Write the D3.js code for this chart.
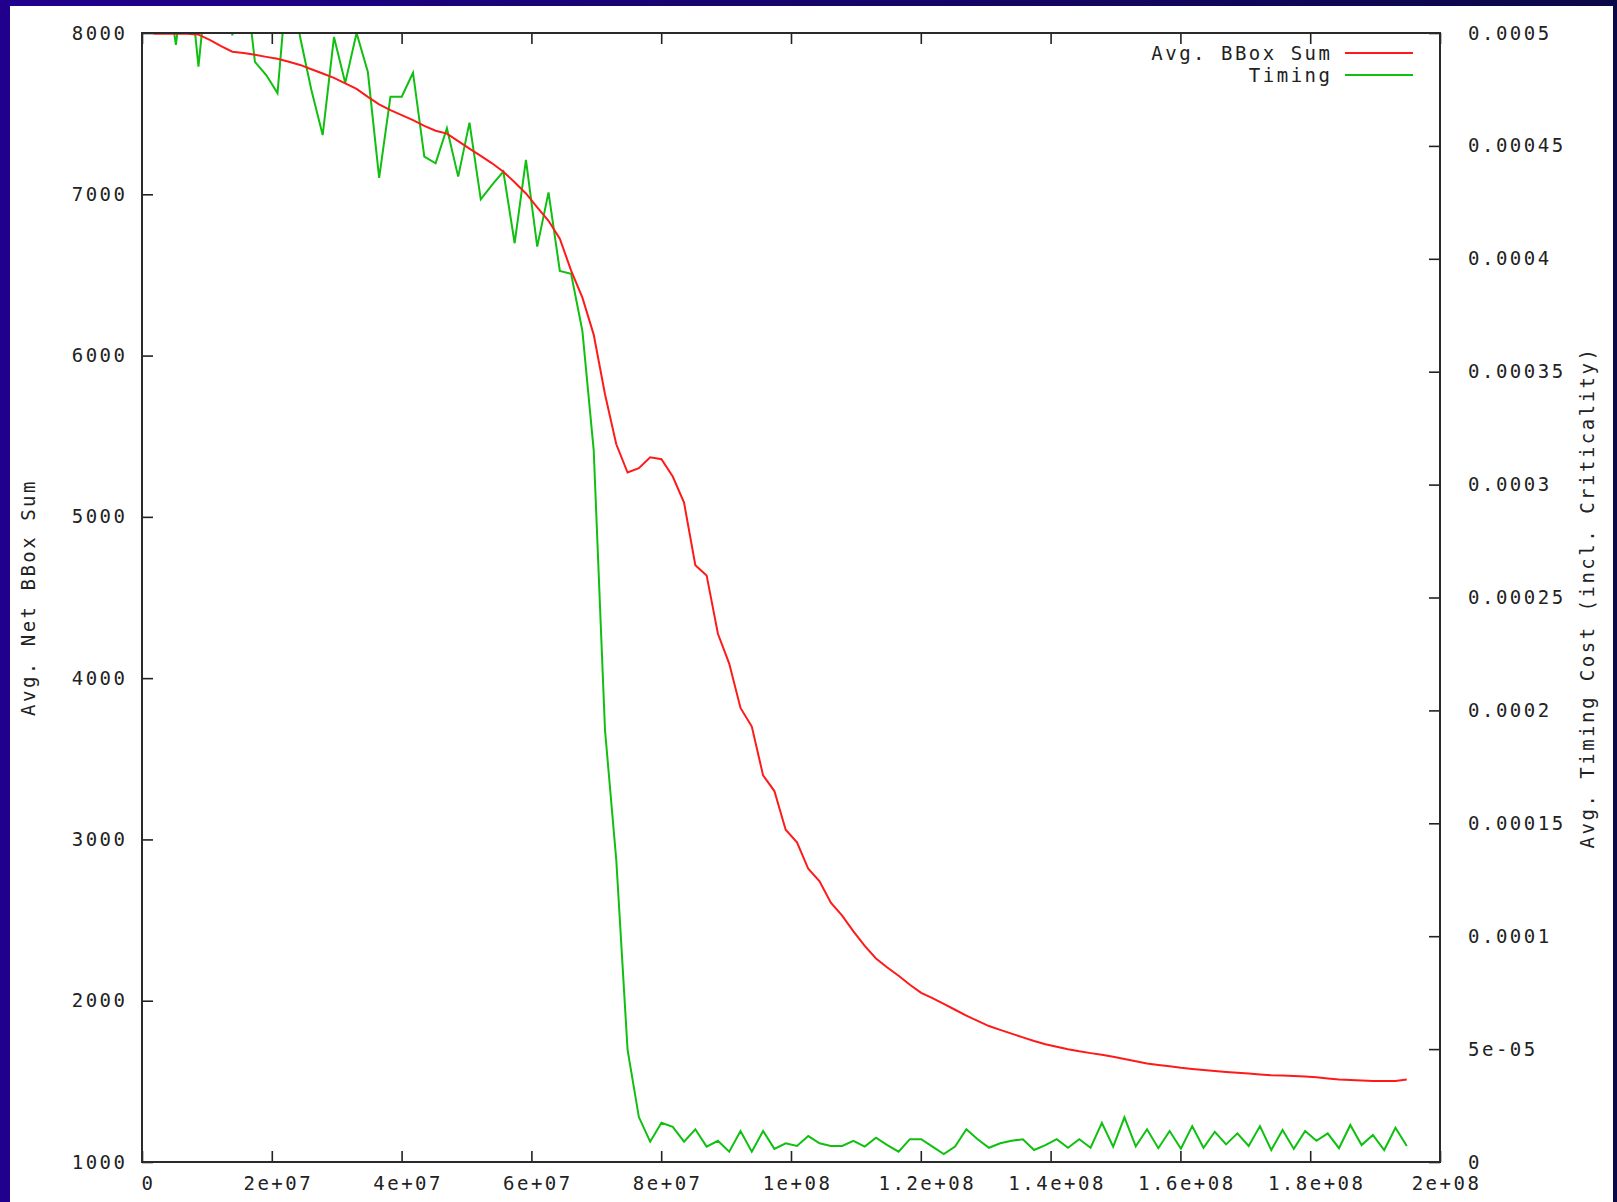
<!DOCTYPE html>
<html>
<head>
<meta charset="utf-8">
<script src="https://cdn.jsdelivr.net/npm/d3@7"></script>
<style>
    body { margin: 0; background: #ffffff; }
    svg { display: block; }
    text { font-family: "DejaVu Sans Mono", monospace; font-size: 19px; letter-spacing: 2.5px; fill: #222222; }
</style>
</head>
<body>
<svg id="drawing_region"></svg>
<script>
// samples are taken every ~1.74e6 moves
const MOVE_STEP = 1.74e6;

// Avg. BBox Sum (left axis)
const bboxSum = [
    7995, 7995, 7995, 7995, 7990, 7957, 7919, 7884, 7876, 7865,
    7852, 7840, 7822, 7802, 7775, 7749, 7722, 7688, 7653, 7604,
    7558, 7522, 7491, 7460, 7424, 7394, 7376, 7330, 7283, 7238,
    7192, 7140, 7075, 7005, 6919, 6836, 6725, 6527, 6359, 6130,
    5760, 5450, 5275, 5302, 5369, 5357, 5250, 5088, 4700, 4637,
    4275, 4090, 3815, 3700, 3397, 3300, 3060, 2982, 2818, 2740,
    2608, 2528, 2430, 2340, 2262, 2206, 2155, 2099, 2049, 2016,
    1981, 1944, 1907, 1875, 1843, 1819, 1796, 1773, 1750, 1730,
    1715, 1699, 1686, 1675, 1665, 1653, 1639, 1625, 1611, 1602,
    1593, 1584, 1577, 1570, 1564, 1558, 1553, 1548, 1543, 1538,
    1536, 1533, 1530, 1525, 1518, 1512, 1508, 1505, 1502, 1502,
    1502, 1512
];

// Timing cost (right axis), in units of 1e-5
const timingE5 = [
    50.0, 53.0, 49.47, 53.5, 48.51, 53.5, 54.0, 49.9, 53.1, 48.72,
    48.14, 47.34, 53.2, 49.82, 47.48, 45.48, 49.82, 47.79, 50.0, 48.27,
    43.58, 47.18, 47.18, 48.24, 44.52, 44.23, 45.78, 43.64, 46.03, 42.63,
    43.27, 43.86, 40.69, 44.38, 40.54, 42.94, 39.46, 39.34, 36.80, 31.53,
    19.13, 13.37, 4.96, 1.99, 0.90, 1.74, 1.56, 0.90, 1.45, 0.68,
    0.94, 0.46, 1.37, 0.46, 1.37, 0.58, 0.83, 0.71, 1.15, 0.83,
    0.71, 0.71, 0.94, 0.68, 1.08, 0.75, 0.46, 1.01, 1.01, 0.68,
    0.35, 0.68, 1.45, 1.01, 0.63, 0.83, 0.94, 1.01, 0.53, 0.75,
    1.01, 0.63, 1.01, 0.63, 1.73, 0.68, 1.98, 0.69, 1.45, 0.61,
    1.37, 0.59, 1.59, 0.63, 1.34, 0.78, 1.27, 0.71, 1.59, 0.53,
    1.42, 0.58, 1.37, 0.94, 1.27, 0.61, 1.64, 0.75, 1.20, 0.53,
    1.52, 0.71
];

const xTicks = [0, 2e7, 4e7, 6e7, 8e7, 1e8, 1.2e8, 1.4e8, 1.6e8, 1.8e8, 2e8];
const xTickLabels = ["0", "2e+07", "4e+07", "6e+07", "8e+07", "1e+08", "1.2e+08", "1.4e+08", "1.6e+08", "1.8e+08", "2e+08"];
const yTicks = [1000, 2000, 3000, 4000, 5000, 6000, 7000, 8000];
const y2Ticks = [0, 5e-5, 1e-4, 1.5e-4, 2e-4, 2.5e-4, 3e-4, 3.5e-4, 4e-4, 4.5e-4, 5e-4];
const y2TickLabels = ["0", "5e-05", "0.0001", "0.00015", "0.0002", "0.00025", "0.0003", "0.00035", "0.0004", "0.00045", "0.0005"];

const seriesNames = ["Avg. BBox Sum", "Timing"];
const seriesColors = ["#ff1a1a", "#10c010"];

const config = {
    width: 1617,
    height: 1202,
    margin: {top: 33, right: 177, bottom: 40, left: 142}
};

const svg = d3.select('#drawing_region')
    .attr('width', config.width)
    .attr('height', config.height);

// dark blue slide frame
const grad = svg.append('defs').append('linearGradient')
    .attr('id', 'frame').attr('x1', 0).attr('x2', 1).attr('y1', 0).attr('y2', 0);
grad.append('stop').attr('offset', '0%').attr('stop-color', '#21008e');
grad.append('stop').attr('offset', '100%').attr('stop-color', '#0b0848');
svg.append('rect').attr('width', config.width).attr('height', config.height).attr('fill', 'url(#frame)');
svg.append('rect').attr('x', 10).attr('y', 6).attr('width', 1603).attr('height', 1196).attr('fill', '#ffffff');

const plotLeft = config.margin.left;
const plotRight = config.width - config.margin.right;
const plotTop = config.margin.top;
const plotBottom = config.height - config.margin.bottom;

const xscale = d3.scaleLinear().domain([0, 2e8]).range([plotLeft, plotRight]);
const yscale = d3.scaleLinear().domain([1000, 8000]).range([plotBottom, plotTop]);
const y2scale = d3.scaleLinear().domain([0, 5e-4]).range([plotBottom, plotTop]);

svg.append('clipPath').attr('id', 'plot_clip')
    .append('rect')
    .attr('x', plotLeft).attr('y', plotTop)
    .attr('width', plotRight - plotLeft).attr('height', plotBottom - plotTop);

const moves = bboxSum.map((d, i) => (i + 1) * MOVE_STEP);
const redData = bboxSum.map((d, i) => ({x: moves[i], y: d}));
const greenData = timingE5.map((d, i) => ({x: moves[i], y: d * 1e-5}));

const plot = svg.append('g').attr('clip-path', 'url(#plot_clip)');

plot.append('path')
    .attr('d', d3.line().x(d => xscale(d.x)).y(d => y2scale(d.y))(greenData))
    .attr('fill', 'none')
    .attr('stroke', seriesColors[1])
    .attr('stroke-width', 2);

plot.append('path')
    .attr('d', d3.line().x(d => xscale(d.x)).y(d => yscale(d.y))(redData))
    .attr('fill', 'none')
    .attr('stroke', seriesColors[0])
    .attr('stroke-width', 2);

// axes, ticks pointing inward like gnuplot
const xaxis_group = svg.append('g')
    .attr('transform', `translate(0, ${plotBottom})`)
    .call(d3.axisBottom(xscale).tickValues(xTicks)
        .tickFormat((d, i) => xTickLabels[i]).tickSize(-11).tickSizeOuter(0).tickPadding(15));
xaxis_group.selectAll('text').attr('dx', 6);

svg.append('g')
    .attr('transform', `translate(0, ${plotTop})`)
    .call(d3.axisTop(xscale).tickValues(xTicks).tickFormat('').tickSize(-11).tickSizeOuter(0));

svg.append('g')
    .attr('transform', `translate(${plotLeft}, 0)`)
    .call(d3.axisLeft(yscale).tickValues(yTicks).tickFormat(d3.format('d'))
        .tickSize(-11).tickSizeOuter(0).tickPadding(14.5));

svg.append('g')
    .attr('transform', `translate(${plotRight}, 0)`)
    .call(d3.axisRight(y2scale).tickValues(y2Ticks)
        .tickFormat((d, i) => y2TickLabels[i]).tickSize(-11).tickSizeOuter(0).tickPadding(28));

svg.selectAll('.domain').remove();
svg.selectAll('.tick line').attr('stroke', '#222222').attr('stroke-width', 1.6);

svg.append('rect')
    .attr('x', plotLeft).attr('y', plotTop)
    .attr('width', plotRight - plotLeft).attr('height', plotBottom - plotTop)
    .attr('fill', 'none')
    .attr('stroke', '#2a2a2a')
    .attr('stroke-width', 2);

// axis titles
svg.append('text')
    .attr('transform', `translate(35, ${(plotTop + plotBottom) / 2}) rotate(-90)`)
    .attr('text-anchor', 'middle')
    .text('Avg. Net BBox Sum');

svg.append('text')
    .attr('transform', `translate(1594, ${(plotTop + plotBottom) / 2}) rotate(-90)`)
    .attr('text-anchor', 'middle')
    .text('Avg. Timing Cost (incl. Criticality)');

// legend
const legend = svg.append('g');
seriesNames.forEach((name, i) => {
    const ly = 53 + i * 22;
    legend.append('text')
        .attr('x', 1332.5)
        .attr('y', ly + 6.5)
        .attr('text-anchor', 'end')
        .text(name);
    legend.append('line')
        .attr('x1', 1345).attr('x2', 1413)
        .attr('y1', ly).attr('y2', ly)
        .attr('stroke', seriesColors[i])
        .attr('stroke-width', 2);
});
</script>
</body>
</html>
